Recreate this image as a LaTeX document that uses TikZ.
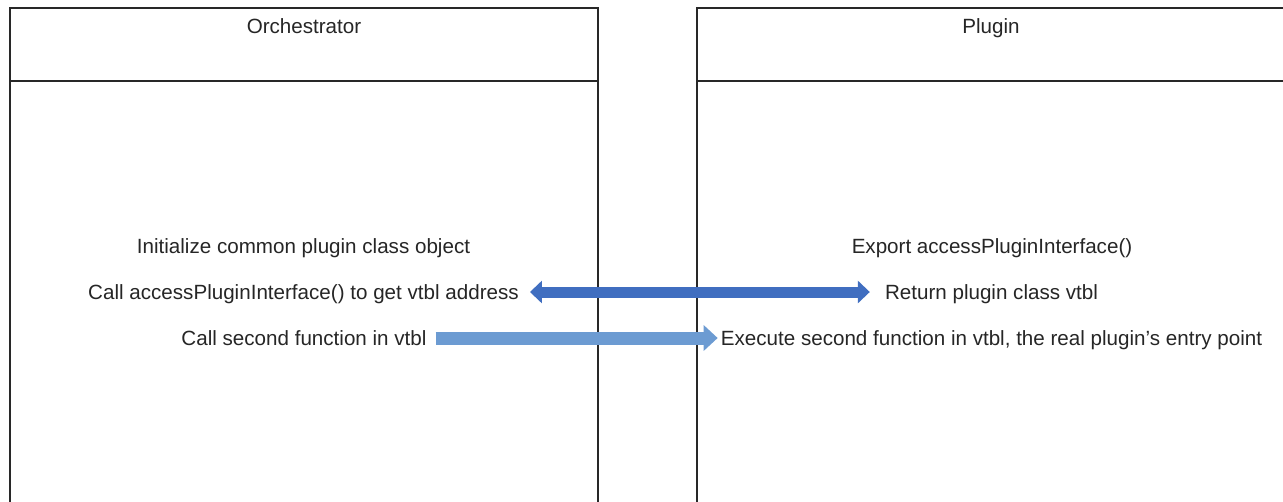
\documentclass[tikz,border=0pt]{standalone}
\usepackage{fontspec}
\setmainfont{Liberation Sans}
\usepackage{tikz}
\usetikzlibrary{arrows.meta, positioning}
\definecolor{framegray}{RGB}{40, 40, 40}
\definecolor{darkarrow}{RGB}{64, 110, 192}
\definecolor{lightarrow}{RGB}{108, 155, 210}

\begin{document}
\begin{tikzpicture}[
    x=1pt, y=-1pt,
    frame/.style={draw=framegray, line width=1.4pt},
    label/.style={inner sep=0pt, anchor=base, text=black!85, font=\fontsize{20.6}{24}\selectfont},
    fatarrow/.style={line width=11pt, darkarrow,
                     {Triangle[width=22pt,length=12pt]}-{Triangle[width=22pt,length=12pt]}},
    callarrow/.style={line width=13pt, lightarrow,
                      -{Triangle[width=25pt,length=14pt]}}
]
    \useasboundingbox (0,0) rectangle (1283,501);
    \clip (0,0) rectangle (1283,501);
    \fill[white] (0,0) rectangle (1283,501);

    % lanes
    \draw[frame] (10,8) rectangle (598,530);
    \draw[frame] (10,81) -- (598,81);
    \draw[frame] (697,8) rectangle (1286,530);
    \draw[frame] (697,81) -- (1286,81);
    \node[label] (orch) at (304,33.5) {Orchestrator};
    \node[label] (plug) at (991,33.5) {Plugin};

    % orchestrator side
    \node[label] (init) at (303.5,253.5) {Initialize common plugin class object};
    \node[label] (getvt) at (303.5,299.5) {Call accessPluginInterface() to get vtbl address};
    \node[label] (second) at (304,345.5) {Call second function in vtbl};

    % plugin side
    \node[label] (export) at (992,253.5) {Export accessPluginInterface()};
    \node[label] (retvt) at (991.5,299.5) {Return plugin class vtbl};
    \node[label] (exec) at (991.5,345.5) {Execute second function in vtbl, the real plugin’s entry point};

    % calls
    \draw[fatarrow] ([shift={(11pt,7.5pt)}]getvt.base east) -- ([shift={(-15pt,7.5pt)}]retvt.base west);
    \draw[callarrow] ([shift={(9pt,7.5pt)}]second.base east) -- ([shift={(-3pt,7.5pt)}]exec.base west);
\end{tikzpicture}
\end{document}
